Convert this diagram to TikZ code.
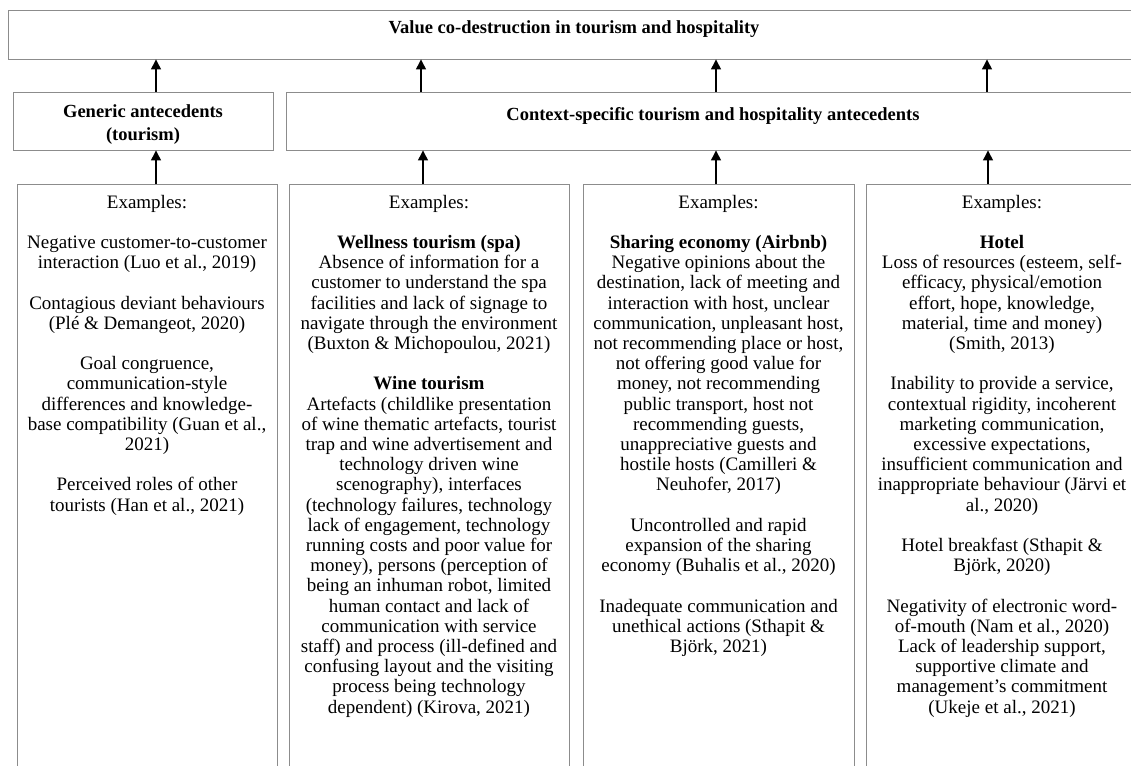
\documentclass[tikz,border=0pt]{standalone}
\usepackage{fontspec}
\setmainfont{Liberation Serif}
\usetikzlibrary{positioning,arrows.meta}
\definecolor{boxgray}{RGB}{140,140,140}
\newcommand\gapline{\\[20.2pt]}

\begin{document}
\begin{tikzpicture}[x=1pt,y=-1pt,
  box/.style={draw=boxgray,line width=0.9pt,inner sep=0pt},
  head/.style={font=\fontsize{18.5}{22.5}\selectfont\bfseries,align=center,inner sep=0pt},
  body/.style={font=\fontsize{19}{20.2}\selectfont,align=center,inner sep=0pt},
  up/.style={line width=1.3pt,-{Triangle[length=10pt,width=10pt]}}
]
\path[use as bounding box,clip] (0,0) rectangle (1131,765);
% frames
\node[box,minimum width=1132pt,minimum height=49pt] (top) at (574,34.5) {};
\node[box,minimum width=260pt,minimum height=58pt] (gen) at (143,121) {};
\node[box,minimum width=854pt,minimum height=58pt] (ctx) at (713,121) {};
\node[box,minimum width=260pt,minimum height=600pt] (ex1) at (147,484) {};
\node[box,minimum width=280pt,minimum height=600pt] (ex2) at (429,484) {};
\node[box,minimum width=271pt,minimum height=600pt] (ex3) at (718.5,484) {};
\node[box,minimum width=272pt,minimum height=600pt] (ex4) at (1002,484) {};
% headings
\node[head,below=10.8pt of top.north] (toplbl) {Value co-destruction in tourism and hospitality};
\node[head,below=13pt of gen.north] (genlbl) {Generic antecedents\\(tourism)};
\node[head,below=15.5pt of ctx.north] (ctxlbl) {Context-specific tourism and hospitality antecedents};
% examples
\node[body,below=11.2pt of ex1.north] (ex1lbl) {Examples:\gapline
Negative customer-to-customer\\
interaction (Luo et al., 2019)\gapline
Contagious deviant behaviours\\
(Plé \& Demangeot, 2020)\gapline
Goal congruence,\\
communication-style\\
differences and knowledge-\\
base compatibility (Guan et al.,\\
2021)\gapline
Perceived roles of other\\
tourists (Han et al., 2021)};
\node[body,below=11.2pt of ex2.north] (ex2lbl) {Examples:\gapline
\textbf{Wellness tourism (spa)}\\
Absence of information for a\\
customer to understand the spa\\
facilities and lack of signage to\\
navigate through the environment\\
(Buxton \& Michopoulou, 2021)\gapline
\textbf{Wine tourism}\\
Artefacts (childlike presentation\\
of wine thematic artefacts, tourist\\
trap and wine advertisement and\\
technology driven wine\\
scenography), interfaces\\
(technology failures, technology\\
lack of engagement, technology\\
running costs and poor value for\\
money), persons (perception of\\
being an inhuman robot, limited\\
human contact and lack of\\
communication with service\\
staff) and process (ill-defined and\\
confusing layout and the visiting\\
process being technology\\
dependent) (Kirova, 2021)};
\node[body,below=11.2pt of ex3.north] (ex3lbl) {Examples:\gapline
\textbf{Sharing economy (Airbnb)}\\
Negative opinions about the\\
destination, lack of meeting and\\
interaction with host, unclear\\
communication, unpleasant host,\\
not recommending place or host,\\
not offering good value for\\
money, not recommending\\
public transport, host not\\
recommending guests,\\
unappreciative guests and\\
hostile hosts (Camilleri \&\\
Neuhofer, 2017)\gapline
Uncontrolled and rapid\\
expansion of the sharing\\
economy (Buhalis et al., 2020)\gapline
Inadequate communication and\\
unethical actions (Sthapit \&\\
Björk, 2021)};
\node[body,below=11.2pt of ex4.north] (ex4lbl) {Examples:\gapline
\textbf{Hotel}\\
Loss of resources (esteem, self-\\
efficacy, physical/emotion\\
effort, hope, knowledge,\\
material, time and money)\\
(Smith, 2013)\gapline
Inability to provide a service,\\
contextual rigidity, incoherent\\
marketing communication,\\
excessive expectations,\\
insufficient communication and\\
inappropriate behaviour (Järvi et\\
al., 2020)\gapline
Hotel breakfast (Sthapit \&\\
Björk, 2020)\gapline
Negativity of electronic word-\\
of-mouth (Nam et al., 2020)\\
Lack of leadership support,\\
supportive climate and\\
management's commitment\\
(Ukeje et al., 2021)};
% arrows
\draw[up] (156,0 |- gen.north) -- (156,0 |- top.south);
\draw[up] (421,0 |- ctx.north) -- (421,0 |- top.south);
\draw[up] (716,0 |- ctx.north) -- (716,0 |- top.south);
\draw[up] (987,0 |- ctx.north) -- (987,0 |- top.south);
\draw[up] (156,0 |- ex1.north) -- (156,0 |- gen.south);
\draw[up] (423,0 |- ex2.north) -- (423,0 |- ctx.south);
\draw[up] (716,0 |- ex3.north) -- (716,0 |- ctx.south);
\draw[up] (988,0 |- ex4.north) -- (988,0 |- ctx.south);
\end{tikzpicture}
\end{document}
